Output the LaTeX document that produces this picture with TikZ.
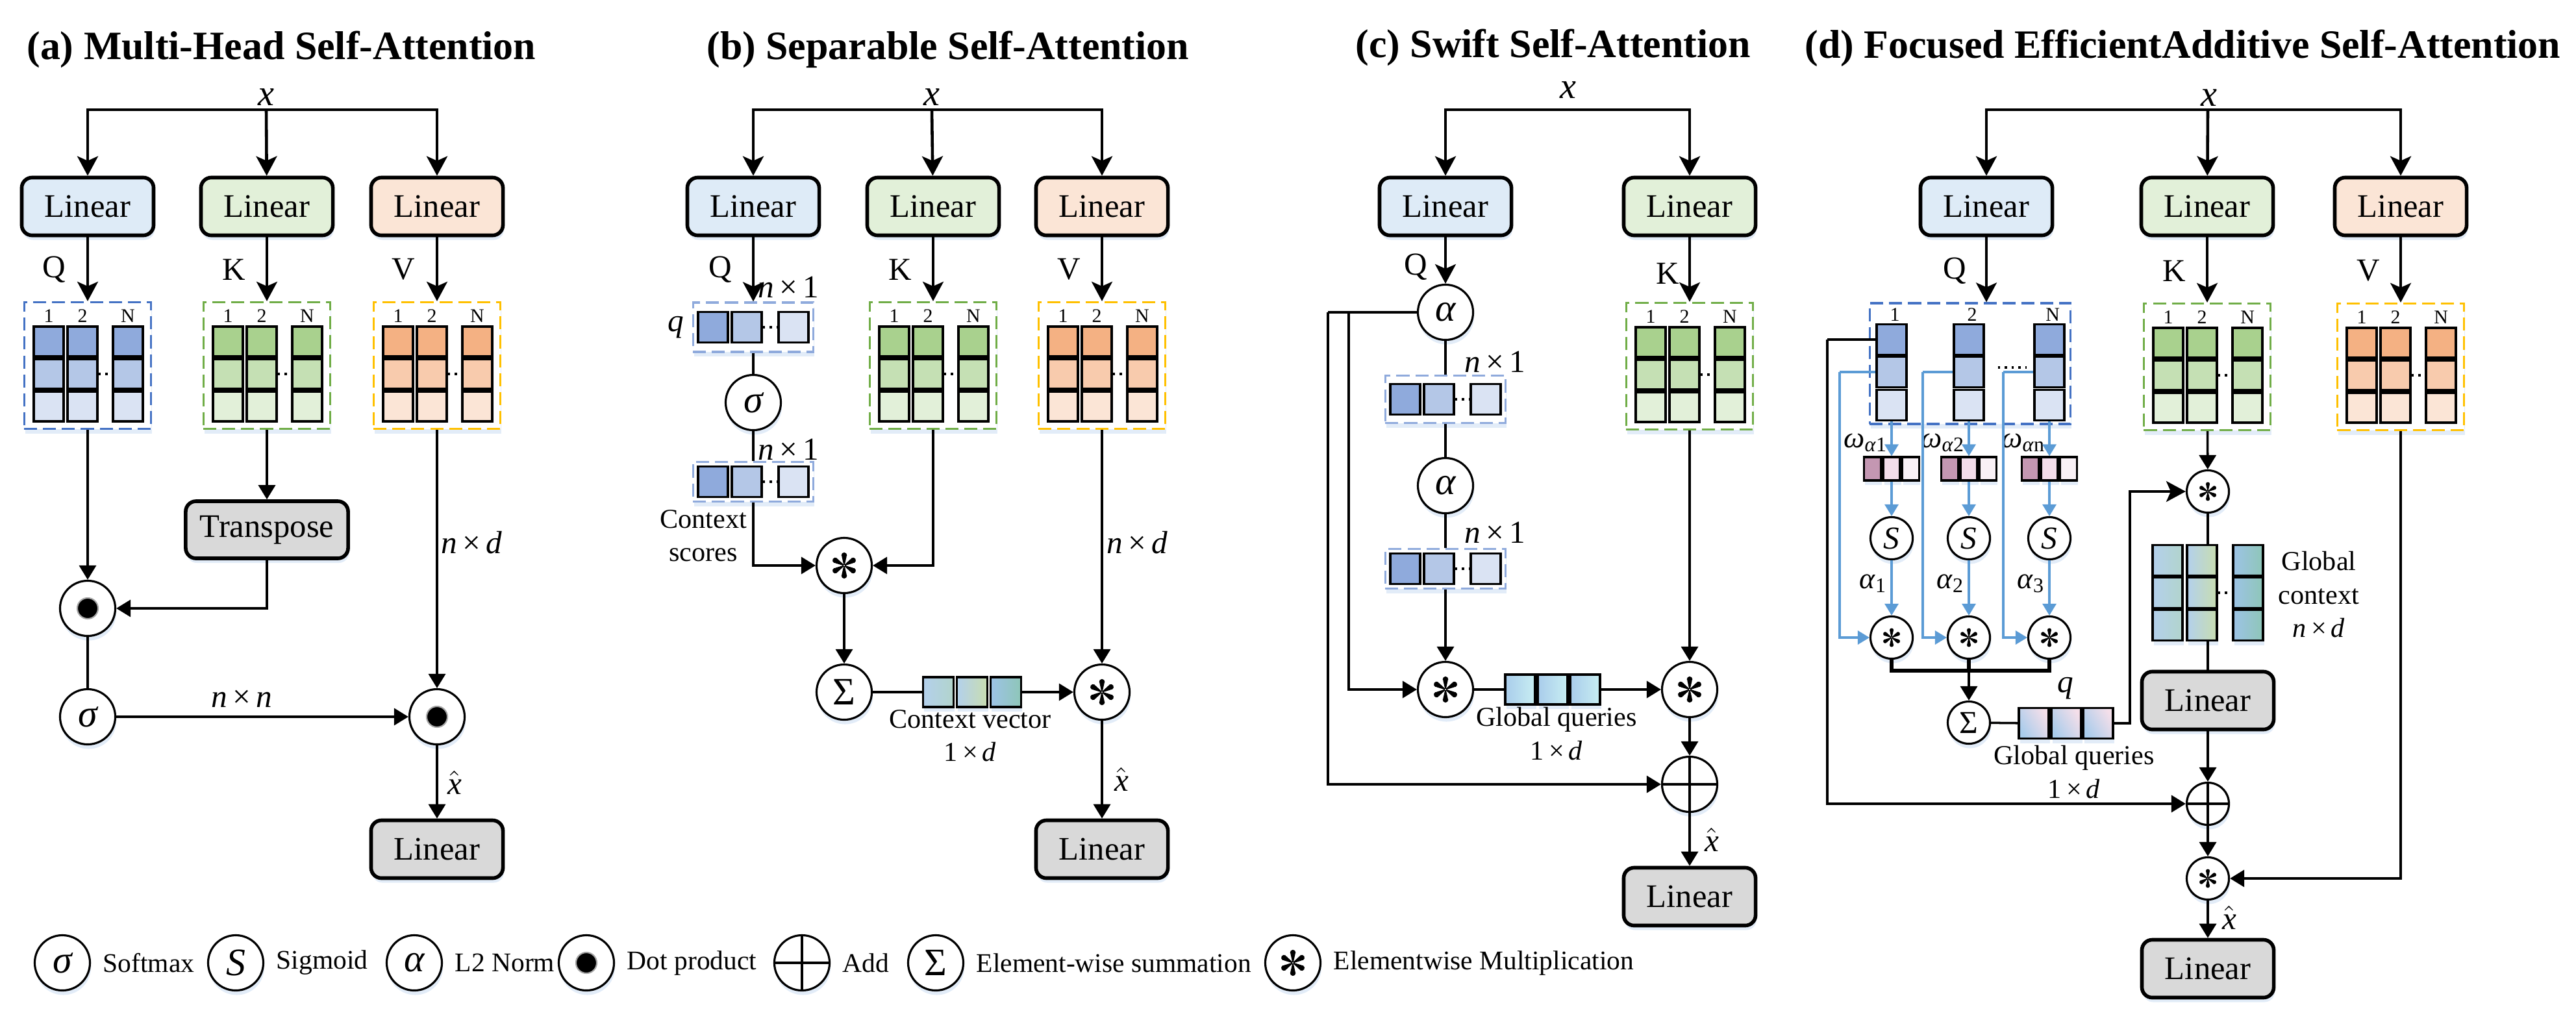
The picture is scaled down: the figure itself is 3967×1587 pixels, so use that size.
\documentclass[tikz,border=0pt]{standalone}
\usepackage{fontspec}
\setmainfont{Liberation Serif}
\usepackage{tikz}
\usetikzlibrary{arrows.meta,positioning,calc,shadows}
\definecolor{qbox}{HTML}{DEEBF7}
\definecolor{kbox}{HTML}{E2F0D9}
\definecolor{vbox}{HTML}{FBE5D6}
\definecolor{gbox}{HTML}{D9D9D9}
\definecolor{qline}{HTML}{4472C4}
\definecolor{kline}{HTML}{70AD47}
\definecolor{vline}{HTML}{FFC000}
\definecolor{vecline}{HTML}{8FAADC}
\definecolor{qcA}{HTML}{8FAADC}
\definecolor{qcB}{HTML}{B4C7E7}
\definecolor{qcC}{HTML}{DAE3F3}
\definecolor{kcA}{HTML}{A9D18E}
\definecolor{kcB}{HTML}{C5E0B4}
\definecolor{kcC}{HTML}{E2F0D9}
\definecolor{vcA}{HTML}{F4B183}
\definecolor{vcB}{HTML}{F8CBAD}
\definecolor{vcC}{HTML}{FBE5D6}
\definecolor{wa}{HTML}{C497B2}
\definecolor{wb}{HTML}{F3DDEA}
\definecolor{wc}{HTML}{F9F1F6}
\definecolor{bline}{HTML}{5B9BD5}
\definecolor{glowc}{HTML}{C6D9F1}
\definecolor{ctxa}{HTML}{B3D0EC}
\definecolor{ctxb}{HTML}{B2D4CC}
\definecolor{ctxc}{HTML}{C8DDB0}
\definecolor{ctxd}{HTML}{5B9BD5}
\definecolor{ctxe}{HTML}{8EC6B8}
\definecolor{ctxf}{HTML}{9DC3E6}
\definecolor{gqa}{HTML}{A9CCEB}
\definecolor{gqb}{HTML}{C8EEF2}
\definecolor{gqc}{HTML}{F5DFEA}
\newcommand{\fsz}[1]{\fontsize{#1}{\fpeval{1.22*#1}}\selectfont}
% six teardrop spokes for the elementwise product, drawn on node #1
\newcommand{\mulmark}[2]{%
  \foreach \ang in {30,90,150,210,270,330}{
    \fill[black,shift={(#1.center)},rotate=\ang,scale=#2] (0.01cm,-0.008cm) -- (0.135cm,-0.036cm) -- (0.135cm,0.036cm) -- (0.01cm,0.008cm) -- cycle;
    \fill[black,shift={(#1.center)},rotate=\ang,scale=#2] (0.158cm,0) circle[radius=0.043cm];
  }}
\tikzset{
  >={Triangle[length=2.2mm,width=2.6mm]},
  bigtip/.style={-{Stealth[length=3mm,width=3.2mm,inset=0.7mm]}},
  flow/.style={->,line width=1pt},
  bigflow/.style={bigtip,line width=1pt},
  topflow/.style={bigtip,line width=1.3pt},
  wire/.style={line width=1pt},
  bflow/.style={-{Triangle[length=1.8mm,width=2.1mm]},line width=0.9pt,draw=bline},
  glow/.style={drop shadow={shadow xshift=0.15mm,shadow yshift=-0.7mm,fill=glowc,opacity=0.5}},
  linbox/.style={draw,line width=1.6pt,rounded corners=1.6mm,minimum width=2.03cm,minimum height=0.89cm,inner sep=0pt,font=\fsz{14.4},glow},
  op/.style={circle,draw,line width=0.9pt,fill=white,minimum size=0.85cm,inner sep=0pt,font=\fsz{17},glow},
  sop/.style={op,minimum size=0.65cm,font=\fsz{14}},
  addop/.style={op,path picture={\draw[line width=0.9pt] (path picture bounding box.north) -- (path picture bounding box.south) (path picture bounding box.west) -- (path picture bounding box.east);}},
  sadd/.style={addop,minimum size=0.65cm},
  dotop/.style={op,path picture={\fill[black,draw=black!35,line width=0.6pt] (path picture bounding box.center) circle[radius=0.16cm];}},
  frame/.style={draw,fill=white,line width=0.9pt,dash pattern=on 2mm off 0.9mm,inner sep=0pt,minimum width=1.95cm,minimum height=1.95cm,glow},
  vframe/.style={frame,draw=vecline,minimum width=1.85cm},
  cell/.style={draw,line width=0.9pt,minimum width=0.46cm,minimum height=0.46cm,inner sep=0pt},
  lab/.style={font=\fsz{14}},
  small/.style={font=\fsz{12},align=center},
  numlab/.style={font=\fsz{8.5}},
  title/.style={font=\fsz{17.6}\bfseries,anchor=base west},
  xlab/.style={font=\fsz{16}\itshape},
  legtxt/.style={font=\fsz{11.8},inner sep=0pt},
}
% 3x3 matrix inside a dashed frame
\newcommand{\mcells}[4]{%
  \foreach \dx/\lb/\i in {-60/1/1,-8/2/2,62/N/3}{%
    \node[numlab] (#1n\i) at ($(#1)+(\dx,-76)$) {\lb};
    \foreach \dy/\cl/\j in {-37/#2/1,13/#3/2,63/#4/3}
      \node[cell,fill=\cl] (#1c\i\j) at ($(#1)+(\dx,\dy)$) {};
  }
  \draw[dotted,line width=1pt] (#1c22.east) -- (#1c32.west);
}
% n x 1 vector inside a dashed frame
\newcommand{\vcells}[4]{%
  \foreach \dx/\cl/\i in {-62/#2/1,-10/#3/2,62/#4/3}
    \node[cell,fill=\cl,minimum height=0.47cm] (#1c\i) at ($(#1)+(\dx,0)$) {};
  \draw[dotted,line width=1pt] (#1c2.east) -- (#1c3.west);
}
\newcommand{\nx}[1]{\textit{n}\,×\,#1}
\newcommand{\xhat}{$\hat{\mbox{\itshape x}}$}
\begin{document}
\begin{tikzpicture}[x=0.01cm,y=-0.01cm]
\useasboundingbox (0,0) rectangle (3967,1587);
% titles
\node[title] (ta) at (29,91) {(a) Multi-Head Self-Attention};
\node[title] (tb) at (1076,91) {(b) Separable Self-Attention};
\node[title] (tc) at (2075,88) {(c) Swift Self-Attention};
\node[title] (td) at (2767,89) {(d) Focused EfficientAdditive Self-Attention};

% (a) multi-head self-attention
\node[xlab] (xa) at (410,150) {x};
\coordinate (xa0) at (410,169);
\node[linbox,fill=qbox] (la1) at (135,318) {Linear};
\node[linbox,fill=kbox] (la2) at (411,318) {Linear};
\node[linbox,fill=vbox] (la3) at (673,318) {Linear};
\draw[topflow] (xa0) -| (la1);
\draw[topflow] (xa0) -- (la2);
\draw[topflow] (xa0) -| (la3);
\node[lab] (qla) at (83,415) {Q};
\node[lab] (kla) at (360,415) {K};
\node[lab] (vla) at (621,415) {V};
\node[frame,draw=qline] (ma1) at (135,563) {};
\node[frame,draw=kline] (ma2) at (411,563) {};
\node[frame,draw=vline] (ma3) at (673,563) {};
\mcells{ma1}{qcA}{qcB}{qcC}
\mcells{ma2}{kcA}{kcB}{kcC}
\mcells{ma3}{vcA}{vcB}{vcC}
\draw[bigflow] (la1) -- (ma1);
\draw[bigflow] (la2) -- (ma2);
\draw[bigflow] (la3) -- (ma3);
\node[linbox,fill=gbox,minimum width=2.5cm,minimum height=0.88cm] (tra) at (411,816) {Transpose};
\node[dotop] (da1) at (135,937) {};
\node[op] (sa) at (135,1104) {\itshape σ};
\node[dotop] (da2) at (673,1104) {};
\node[linbox,fill=gbox] (lao) at (673,1308) {Linear};
\draw[flow] (ma2) -- (tra);
\draw[flow] (tra) |- (da1);
\draw[flow] (ma1) -- (da1);
\draw[wire] (da1) -- (sa);
\draw[flow] (sa) -- (da2);
\draw[flow] (ma3) -- (da2);
\draw[flow] (da2) -- (lao);
\node[lab] (nna) at (372,1076) {\nx{\textit{n}}};
\node[lab] (nda) at (726,836) {\nx{\textit{d}}};
\node[lab] (xha) at (700,1205) {\xhat};

% (b) separable self-attention
\node[xlab] (xb) at (1435,150) {x};
\coordinate (xb0) at (1435,169);
\node[linbox,fill=qbox] (lb1) at (1160,318) {Linear};
\node[linbox,fill=kbox] (lb2) at (1437,318) {Linear};
\node[linbox,fill=vbox] (lb3) at (1697,318) {Linear};
\draw[topflow] (xb0) -| (lb1);
\draw[topflow] (xb0) -- (lb2);
\draw[topflow] (xb0) -| (lb3);
\node[lab] (qlb) at (1109,415) {Q};
\node[lab] (klb) at (1386,415) {K};
\node[lab] (vlb) at (1646,415) {V};
\node[vframe,minimum height=0.76cm] (vb1) at (1160,504) {};
\vcells{vb1}{qcA}{qcB}{qcC}
\node[lab] (qvb) at (1041,504) {\itshape q};
\node[op] (sb) at (1160,620) {\itshape σ};
\node[vframe,minimum height=0.61cm] (vb2) at (1160,742) {};
\vcells{vb2}{qcA}{qcB}{qcC}
\node[small] (csb) at (1083,825) {Context\\scores};
\node[frame,draw=kline] (mb1) at (1437,563) {};
\node[frame,draw=vline] (mb2) at (1697,563) {};
\mcells{mb1}{kcA}{kcB}{kcC}
\mcells{mb2}{vcA}{vcB}{vcC}
\node[op] (mb3) at (1300,871) {};
\node[op] (sgb) at (1300,1066) {Σ};
\node[cell,glow,left color=ctxa,right color=ctxb,minimum width=0.47cm] (cvb1) at (1445,1066) {};
\node[cell,glow,left color=ctxa,right color=ctxc,minimum width=0.47cm] (cvb2) at (1497,1066) {};
\node[cell,glow,left color=ctxf,middle color=ctxd,right color=ctxe,minimum width=0.47cm] (cvb3) at (1549,1066) {};
\node[op] (mb4) at (1697,1066) {};
\node[linbox,fill=gbox] (lbo) at (1697,1308) {Linear};
\draw[bigflow] (lb1) -- (vb1);
\draw[wire] (vb1) -- (sb);
\draw[wire] (sb) -- (vb2);
\draw[flow] (vb2) |- (mb3);
\draw[bigflow] (lb2) -- (mb1);
\draw[bigflow] (lb3) -- (mb2);
\draw[flow] (mb1) |- (mb3);
\draw[flow] (mb3) -- (sgb);
\draw[wire] (sgb) -- (cvb1);
\draw[flow] (cvb3) -- (mb4);
\draw[flow] (mb2) -- (mb4);
\draw[flow] (mb4) -- (lbo);
\node[lab] (n1b) at (1214,442) {\nx{1}};
\node[lab] (n2b) at (1214,692) {\nx{1}};
\node[lab] (ndb) at (1751,836) {\nx{\textit{d}}};
\node[small] (cvl) at (1494,1133) {Context vector\\1\,×\,\textit{d}};
\node[lab] (xhb) at (1727,1200) {\xhat};

% (c) swift self-attention
\node[xlab] (xc) at (2415,139) {x};
\coordinate (xc0) at (2414,169);
\node[linbox,fill=qbox] (lc1) at (2226,318) {Linear};
\node[linbox,fill=kbox] (lc2) at (2602,318) {Linear};
\draw[topflow] (xc0) -| (lc1);
\draw[topflow] (xc0) -| (lc2);
\node[lab] (qlc) at (2180,411) {Q};
\node[lab] (klc) at (2568,421) {K};
\node[op] (ac1) at (2226,481) {\itshape α};
\node[vframe,minimum height=0.73cm] (vc1) at (2226,615) {};
\vcells{vc1}{qcA}{qcB}{qcC}
\node[op] (ac2) at (2226,748) {\itshape α};
\node[vframe,minimum height=0.61cm] (vc2) at (2226,876) {};
\vcells{vc2}{qcA}{qcB}{qcC}
\node[op] (mc1) at (2226,1062) {};
\foreach \x/\i in {2341/1,2391/2,2441/3}
  \node[cell,glow,left color=gqa,right color=gqb] (gqc\i) at (\x,1062) {};
\node[op] (mc2) at (2602,1062) {};
\node[frame,draw=kline] (mkc) at (2602,564) {};
\mcells{mkc}{kcA}{kcB}{kcC}
\node[addop] (adc) at (2602,1208) {};
\node[linbox,fill=gbox] (lco) at (2602,1381) {Linear};
\coordinate (bc1) at (2077,481);
\coordinate (bc2) at (2045,481);
\draw[bigflow] (lc1) -- (ac1);
\draw[wire] (ac1) -- (vc1);
\draw[wire] (vc1) -- (ac2);
\draw[wire] (ac2) -- (vc2);
\draw[flow] (vc2) -- (mc1);
\draw[wire] (ac1) -- (bc2);
\draw[flow] (bc1) |- (mc1);
\draw[flow] (bc2) |- (adc);
\draw[wire] (mc1) -- (gqc1);
\draw[flow] (gqc3) -- (mc2);
\draw[bigflow] (lc2) -- (mkc);
\draw[flow] (mkc) -- (mc2);
\draw[flow] (mc2) -- (adc);
\draw[flow] (adc) -- (lco);
\node[lab] (n1c) at (2302,557) {\nx{1}};
\node[lab] (n2c) at (2302,820) {\nx{1}};
\node[small] (gql) at (2397,1130) {Global queries\\1\,×\,\textit{d}};
\node[lab] (xhc) at (2636,1293) {\xhat};

% (d) focused efficient additive self-attention
\node[xlab] (xd) at (3402,151) {x};
\coordinate (xd0) at (3400,169);
\node[linbox,fill=qbox] (ld1) at (3059,318) {Linear};
\node[linbox,fill=kbox] (ld2) at (3399,318) {Linear};
\node[linbox,fill=vbox] (ld3) at (3697,318) {Linear};
\draw[topflow] (xd0) -| (ld1);
\draw[topflow] (xd0) -- (ld2);
\draw[topflow] (xd0) -| (ld3);
\node[lab] (qld) at (3010,417) {Q};
\node[lab] (kld) at (3348,417) {K};
\node[lab] (vld) at (3647,417) {V};
\node[frame,draw=qline,minimum width=3.09cm,minimum height=1.86cm] (mqd) at (3034,560) {};
\node[frame,draw=kline] (mkd) at (3399,565) {};
\node[frame,draw=vline] (mvd) at (3697,565) {};
\mcells{mkd}{kcA}{kcB}{kcC}
\mcells{mvd}{vcA}{vcB}{vcC}
\draw[bigflow] (ld1.south) -- (ld1.south |- mqd.north);
\draw[bigflow] (ld2) -- (mkd);
\draw[bigflow] (ld3) -- (mvd);
\foreach \cx/\lb/\i/\w/\bx in {2913/1/1/1/2833,3032/2/2/2/2961,3156/N/3/n/3085}{
  \node[numlab] (mqdn\i) at (\cx+5,485) {\lb};
  \foreach \cy/\cl/\j in {523/qcA/1,573/qcB/2,624/qcC/3}
    \node[cell,fill=\cl,minimum height=0.47cm] (mqd\i\j) at (\cx,\cy) {};
  \foreach \dx/\cl/\j in {-29.5/wa/1,0/wb/2,29.5/wc/3}
    \node[cell,fill=\cl,minimum width=0.26cm,minimum height=0.36cm,glow] (wd\i\j) at (\cx+\dx,722) {};
  \node[sop] (sd\i) at (\cx,829) {\itshape S};
  \node[sop] (pd\i) at (\cx,982) {};
  \mulmark{pd\i}{0.72}
  \node[font=\fsz{13},anchor=base east,inner sep=1pt] (wl\i) at (\cx-2,689) {\textit{ω}\textsubscript{\textit{α}\w}};
  \node[font=\fsz{13},anchor=base east,inner sep=1pt] (al\i) at (\cx-3,906) {\textit{α}\textsubscript{\i}};
  \coordinate (bd\i) at (\bx,573);
  \draw[bflow] (mqd\i3) -- (wd\i2);
  \draw[bflow] (wd\i2) -- (sd\i);
  \draw[bflow] (sd\i) -- (pd\i);
  \draw[bline,line width=0.9pt] (mqd\i2) -- (bd\i);
  \draw[bflow] (bd\i) |- (pd\i);
}
\draw[dotted,line width=1pt] (mqd22.east) ++(20,-7) -- ++(44,0);
\coordinate (jd) at (3032,1033);
\draw[wire,line width=1.5pt] (pd1) |- (jd) -| (pd3);
\draw[wire,line width=1.5pt] (pd2) -- (jd);
\node[sop] (sgd) at (3032,1113) {Σ};
\draw[flow] (jd) -- (sgd);
\foreach \x/\i in {3132/1,3182/2,3231/3}
  \node[cell,glow,left color=gqa,right color=gqc,shading angle=120,minimum height=0.47cm] (gqd\i) at (\x,1114) {};
\node[lab] (qd) at (3181,1060) {\itshape q};
\node[small] (gqdl) at (3194,1189) {Global queries\\1\,×\,\textit{d}};
\coordinate (gqd0) at (3280,1114);
\node[sop] (pk) at (3400,757) {};
\draw[wire] (sgd) -- (gqd1);
\draw[bigflow] (gqd3) -- (gqd0) |- (pk);
\draw[flow] (mkd) -- (pk);
\foreach \dx/\lc/\mc/\rc/\i in {-61/ctxa/ctxa/ctxb/1,-8/ctxa/ctxa/ctxc/2,63/ctxf/ctxd/ctxe/3}
  \foreach \cy/\j in {863/1,913/2,963/3}
    \node[cell,glow,left color=\lc,middle color=\mc,right color=\rc,minimum height=0.47cm] (gcd\i\j) at (3399+\dx,\cy) {};
\draw[dotted,line width=1pt] (gcd22) -- (gcd32);
\node[small] (gcl) at (3571,916) {Global\\context\\\nx{\textit{d}}};
\node[linbox,fill=gbox] (ldl) at (3400,1079) {Linear};
\node[sadd] (add) at (3400,1238) {};
\node[sop] (pf) at (3400,1353) {};
\node[linbox,fill=gbox] (ldo) at (3400,1492) {Linear};
\draw[wire] (pk) -- (pk |- gcd21.north);
\draw[wire] (pk |- gcd23.south) -- (ldl);
\coordinate (bq) at (2814,523);
\draw[wire] (mqd11) -- (bq);
\draw[flow] (bq) |- (add);
\draw[flow] (ldl) -- (add);
\draw[flow] (add) -- (pf);
\draw[flow] (mvd) |- (pf);
\draw[flow] (pf) -- (ldo);
\node[lab] (xhd) at (3433,1413) {\xhat};

% legend
\node[op] (g1) at (96,1483) {\itshape σ};
\node[legtxt,right=0.18cm of g1] (gt1) {Softmax};
\node[op] (g2) at (363,1483) {\itshape S};
\node[legtxt,right=0.18cm of g2] (gt2) {Sigmoid};
\node[op] (g3) at (638,1483) {\itshape α};
\node[legtxt,right=0.18cm of g3] (gt3) {L2 Norm};
\node[dotop] (g4) at (903,1483) {};
\node[legtxt,right=0.18cm of g4] (gt4) {Dot product};
\node[addop] (g5) at (1235,1483) {};
\node[legtxt,right=0.18cm of g5] (gt5) {Add};
\node[op] (g6) at (1441,1483) {Σ};
\node[legtxt,right=0.18cm of g6] (gt6) {Element-wise summation};
\node[op] (g7) at (1991,1483) {};
\node[legtxt,right=0.18cm of g7] (gt7) {Elementwise Multiplication};

% asterisks of the elementwise products
\foreach \nd/\sc in {mb3/1,mb4/1,mc1/1,mc2/1,pk/0.72,pf/0.72,g7/1}{
  \mulmark{\nd}{\sc}
}
\end{tikzpicture}
\end{document}
